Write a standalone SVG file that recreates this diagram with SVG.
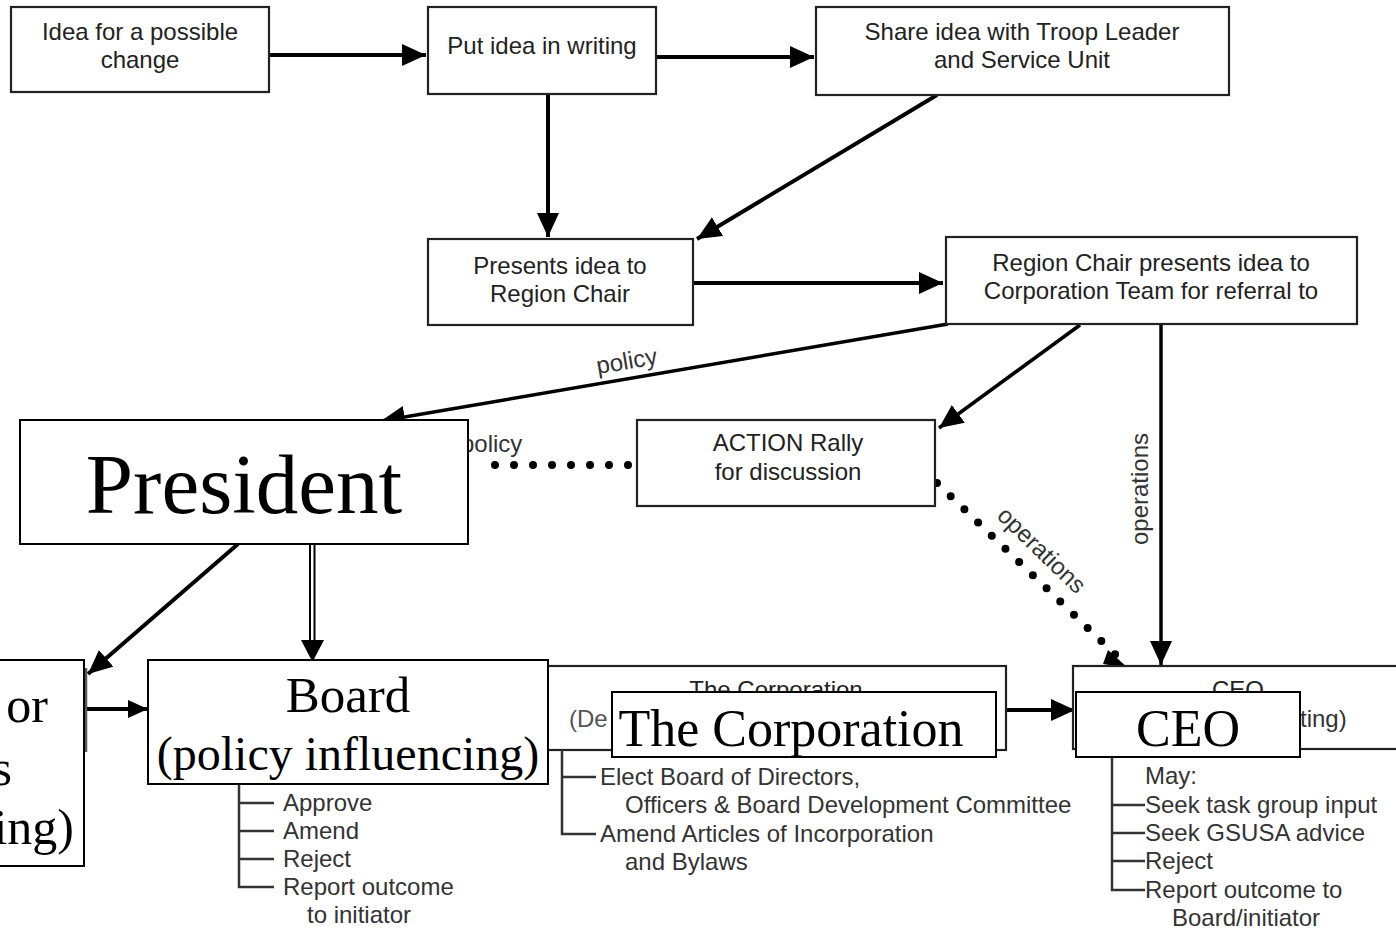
<svg xmlns="http://www.w3.org/2000/svg" width="1396" height="929" viewBox="0 0 1396 929">
<style>
.box{fill:#fff;stroke:#222;stroke-width:2.2}
.t{font-family:"Liberation Sans",Arial,sans-serif;font-size:24px;fill:#222;text-anchor:middle}
.tl{font-family:"Liberation Sans",Arial,sans-serif;font-size:24px;fill:#333}
.c{fill:none;stroke:#000;stroke-width:4}
.ct{fill:none;stroke:#000;stroke-width:3.5}
.dot{fill:none;stroke:#000;stroke-width:8;stroke-linecap:round;stroke-dasharray:0 19}
.tree{fill:none;stroke:#333;stroke-width:2.5}
.ov{fill:#fff;stroke:#000;stroke-width:2}
.st{font-family:"Liberation Serif","Times New Roman",serif;fill:#000;text-anchor:middle}
</style>
<defs>
<marker id="ah" markerUnits="userSpaceOnUse" markerWidth="26" markerHeight="22" refX="24" refY="11" orient="auto"><path d="M0,0 L24,11 L0,22 Z" fill="#000"/></marker>
<marker id="ahs" markerUnits="userSpaceOnUse" markerWidth="22" markerHeight="18" refX="20" refY="9" orient="auto"><path d="M0,0 L20,9 L0,18 Z" fill="#000"/></marker>
</defs>
<rect width="1396" height="929" fill="#fff"/>

<g id="connectors">
<line class="c" x1="269" y1="55" x2="426" y2="55" marker-end="url(#ah)"/>
<line class="c" x1="656" y1="57" x2="814" y2="57" marker-end="url(#ah)"/>
<line class="c" x1="548" y1="94" x2="548" y2="237" marker-end="url(#ah)"/>
<line class="c" x1="937" y1="95" x2="697" y2="239" marker-end="url(#ah)"/>
<line class="c" x1="693" y1="283" x2="943" y2="283" marker-end="url(#ah)"/>
<line class="ct" x1="948" y1="324" x2="381" y2="421" marker-end="url(#ah)"/>
<text class="tl" transform="translate(628,369) rotate(-9.6)" text-anchor="middle">policy</text>
<line class="ct" x1="1080" y1="325" x2="939" y2="428" marker-end="url(#ah)"/>
<line class="ct" x1="1161" y1="324" x2="1161" y2="665" marker-end="url(#ah)"/>
<text class="tl" transform="translate(1148,489) rotate(-90)" text-anchor="middle">operations</text>
<line class="dot" x1="628" y1="465" x2="476" y2="465"/>
<line class="dot" x1="937" y1="483" x2="1120" y2="659"/>
<path d="M1108,650 L1128,668 L1103,664 Z" fill="#000"/>
<text class="tl" transform="translate(1036,556) rotate(44)" text-anchor="middle">operations</text>
<text class="tl" x="461" y="452">policy</text>
<line class="c" x1="238" y1="544" x2="88" y2="674" marker-end="url(#ah)"/>
<line x1="310" y1="544" x2="310" y2="645" stroke="#000" stroke-width="2"/>
<line x1="314.5" y1="544" x2="314.5" y2="645" stroke="#000" stroke-width="2"/>
<path d="M301,640 L324,640 L312.5,662 Z" fill="#000"/>
<line class="c" x1="86" y1="709" x2="148" y2="709" marker-end="url(#ahs)"/>
<line x1="548" y1="724" x2="612" y2="724" stroke="#000" stroke-width="2" marker-end="url(#ahs)"/>
<line class="c" x1="996" y1="710" x2="1075" y2="710" marker-end="url(#ah)"/>
</g>

<g id="node-idea">
<rect class="box" x="11" y="7" width="258" height="85"/>
<text class="t" x="140" y="40">Idea for a possible</text>
<text class="t" x="140" y="68">change</text>
</g>
<g id="node-writing">
<rect class="box" x="428" y="7" width="228" height="87"/>
<text class="t" x="542" y="54">Put idea in writing</text>
</g>
<g id="node-share">
<rect class="box" x="816" y="7" width="413" height="88"/>
<text class="t" x="1022" y="40">Share idea with Troop Leader</text>
<text class="t" x="1022" y="68">and Service Unit</text>
</g>
<g id="node-presents">
<rect class="box" x="428" y="239" width="265" height="86"/>
<text class="t" x="560" y="274">Presents idea to</text>
<text class="t" x="560" y="302">Region Chair</text>
</g>
<g id="node-regionchair">
<rect class="box" x="946" y="237" width="411" height="87"/>
<text class="t" x="1151" y="271">Region Chair presents idea to</text>
<text class="t" x="1151" y="299">Corporation Team for referral to</text>
</g>
<g id="node-action">
<rect class="box" x="637" y="420" width="298" height="86"/>
<text class="t" x="788" y="451">ACTION Rally</text>
<text class="t" x="788" y="480">for discussion</text>
</g>

<g id="node-corporation-original">
<rect class="box" x="540" y="666" width="466" height="84"/>
<text class="t" x="776" y="698">The Corporation</text>
<text class="tl" x="569" y="727" style="fill:#555">(De</text>
<path class="tree" d="M562,750 V834 H596 M562,777 H596"/>
<text class="tl" x="600" y="785">Elect Board of Directors,</text>
<text class="tl" x="625" y="813">Officers &amp; Board Development Committee</text>
<text class="tl" x="600" y="842">Amend Articles of Incorporation</text>
<text class="tl" x="625" y="870">and Bylaws</text>
</g>
<g id="node-ceo-original">
<rect class="box" x="1073" y="666" width="330" height="83"/>
<text class="t" x="1238" y="698">CEO</text>
<text class="tl" x="1300" y="727">ting)</text>
<path class="tree" d="M1112,757 V890 H1145 M1112,805 H1145 M1112,833 H1145 M1112,861 H1145"/>
<text class="tl" x="1145" y="784">May:</text>
<text class="tl" x="1145" y="813">Seek task group input</text>
<text class="tl" x="1145" y="841">Seek GSUSA advice</text>
<text class="tl" x="1145" y="869">Reject</text>
<text class="tl" x="1145" y="898">Report outcome to</text>
<text class="tl" x="1172" y="926">Board/initiator</text>
</g>
<g id="node-board-original">
<line x1="86" y1="668" x2="86" y2="752" stroke="#555" stroke-width="2.5"/>
<path class="tree" d="M239,784 V887 H274 M239,803 H274 M239,831 H274 M239,859 H274"/>
<text class="tl" x="283" y="811">Approve</text>
<text class="tl" x="283" y="839">Amend</text>
<text class="tl" x="283" y="867">Reject</text>
<text class="tl" x="283" y="895">Report outcome</text>
<text class="tl" x="307" y="923">to initiator</text>
</g>

<g id="node-president">
<rect class="ov" x="20" y="420" width="448" height="124"/>
<text class="st" x="244" y="513" font-size="85">President</text>
</g>
<g id="node-left">
<rect class="ov" x="-4" y="660" width="88" height="206"/>
<text class="st" x="48" y="722" font-size="50" style="text-anchor:end">or</text>
<text class="st" x="12" y="785" font-size="50" style="text-anchor:end">s</text>
<text class="st" x="74" y="844" font-size="50" style="text-anchor:end">ing)</text>
</g>
<g id="node-board">
<rect class="ov" x="148" y="660" width="400" height="124"/>
<text class="st" x="348" y="712" font-size="51">Board</text>
<text class="st" x="348" y="770" font-size="48">(policy influencing)</text>
</g>
<g id="node-corporation">
<rect class="ov" x="612" y="692" width="384" height="65"/>
<text class="st" x="791" y="746" font-size="52">The Corporation</text>
</g>
<g id="node-ceo">
<rect class="ov" x="1076" y="692" width="224" height="65"/>
<text class="st" x="1188" y="746" font-size="52">CEO</text>
</g>
</svg>
